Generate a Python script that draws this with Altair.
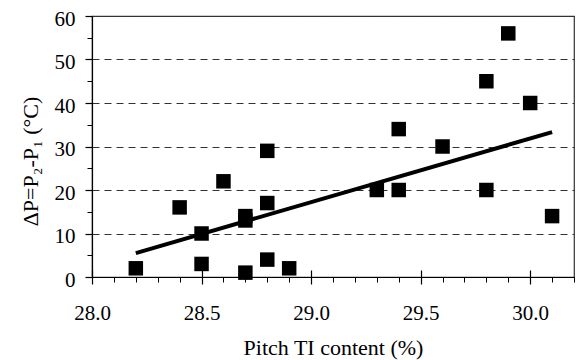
import altair as alt
import pandas as pd

# Data
pitch_ti = [28.2, 28.4, 28.5, 28.5, 28.6, 28.7, 28.7, 28.7, 28.8, 28.8, 28.8,
            28.9, 29.3, 29.4, 29.4, 29.6, 29.8, 29.8, 29.9, 30.0, 30.1]
delta_p = [2, 16, 10, 3, 22, 14, 13, 1, 29, 17, 4,
           2, 20, 34, 20, 30, 45, 20, 56, 40, 14]

trend_x = [28.2, 30.1]
trend_y = [5.5, 33.3]

x_major = [28.0, 28.5, 29.0, 29.5, 30.0]
x_minor = [28.1, 28.2, 28.3, 28.4, 28.6, 28.7, 28.8, 28.9, 29.1, 29.2, 29.3,
           29.4, 29.6, 29.7, 29.8, 29.9, 30.1, 30.2]
y_major = [0, 10, 20, 30, 40, 50, 60]
y_minor = [5, 15, 25, 35, 45, 55]

pts = pd.DataFrame({"x": pitch_ti, "y": delta_p})
trend = pd.DataFrame({"x": trend_x, "y": trend_y})

FONT = "Liberation Serif, Times New Roman, serif"
xs = alt.Scale(domain=[28.0, 30.2], nice=False, zero=False)
ys = alt.Scale(domain=[0, 60], nice=False, zero=True)

points = alt.Chart(pts).mark_point(shape="square", filled=True, size=210,
                                   color="black", opacity=1).encode(
    x=alt.X("x:Q", scale=xs,
            axis=alt.Axis(values=x_major, format=".1f", tickSize=7,
                          labelPadding=35, labelBaseline="alphabetic",
                          labelFlush=False, labelOverlap=False,
                          labelFontSize=21, labelFont=FONT, labelColor="black",
                          domainColor="black", tickColor="black",
                          domainWidth=1.2, tickWidth=1.2,
                          grid=False, title="Pitch TI content (%)",
                          titleFont=FONT, titleFontSize=22, titleFontWeight="normal",
                          titleColor="black", titleY=77,
                          titleBaseline="alphabetic")),
    y=alt.Y("y:Q", scale=ys,
            axis=alt.Axis(values=y_major, tickSize=7, labelPadding=10,
                          labelFontSize=21, labelFont=FONT, labelColor="black",
                          labelOffset=3, labelBaseline="middle",
                          labelFlush=False, labelOverlap=False,
                          domainColor="black", tickColor="black",
                          domainWidth=1.2, tickWidth=1.2,
                          grid=True, gridDash=[7, 5], gridColor="#333333",
                          gridWidth=1,
                          title="ΔP=P₂-P₁  (°C)", titleFont=FONT,
                          titleFontSize=22, titleFontWeight="normal",
                          titleColor="black", titleAngle=270,
                          titleX=-62, titleY=145, titleAlign="center",
                          titleBaseline="middle")),
)

line = alt.Chart(trend).mark_line(color="black", strokeWidth=4).encode(
    x=alt.X("x:Q", scale=xs, axis=None),
    y=alt.Y("y:Q", scale=ys, axis=None),
)

minor = alt.Chart(pts).mark_point(opacity=0).encode(
    x=alt.X("x:Q", scale=xs,
            axis=alt.Axis(orient="bottom", values=x_minor, tickSize=5,
                          labels=False, domain=False, grid=False, title=None,
                          tickColor="black", tickWidth=1)),
    y=alt.Y("y:Q", scale=ys,
            axis=alt.Axis(orient="left", values=y_minor, tickSize=5,
                          labels=False, domain=False, grid=False, title=None,
                          tickColor="black", tickWidth=1)),
)

inner = alt.Chart(pts).mark_point(opacity=0).encode(
    x=alt.X("x:Q", scale=xs,
            axis=alt.Axis(orient="bottom", values=x_major, tickSize=7, offset=-7,
                          labels=False, domain=False, grid=False, title=None,
                          tickColor="black", tickWidth=1.2)),
    y=alt.Y("y:Q", scale=ys, axis=None),
)

chart = alt.layer(points, line, minor, inner).resolve_axis(
    x="independent", y="independent"
).properties(
    width=482, height=261,
    autosize=alt.AutoSizeParams(type="none"),
    padding={"left": 92, "top": 16, "right": 3, "bottom": 83},
    background="white",
).configure(font=FONT).configure_view(stroke="#333333", strokeWidth=1.2)

chart.save("out.html", embed_options={"renderer": "svg", "actions": False})
